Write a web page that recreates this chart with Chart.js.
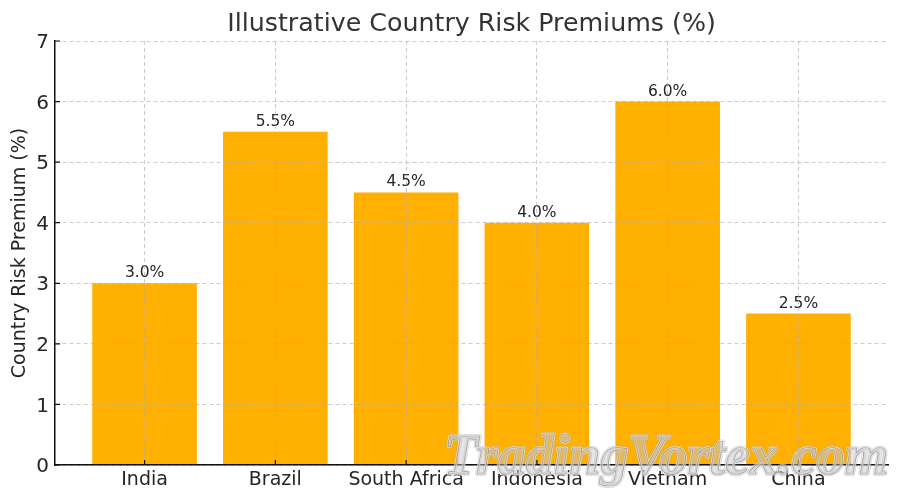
<!DOCTYPE html>
<html><head><meta charset="utf-8">
<script src="https://cdn.jsdelivr.net/npm/chart.js@4/dist/chart.umd.min.js"></script>
<style>html,body{margin:0;padding:0;background:#fff}#w{position:relative;width:900px;height:501px}</style>
</head><body><div id="w"><canvas id="c" width="900" height="501"></canvas></div>
<script>
const categories=["India","Brazil","South Africa","Indonesia","Vietnam","China"];
const premiums=[3.0,5.5,4.5,4.0,6.0,2.5];
const yTicks=[0,1,2,3,4,5,6,7];
const titleText='Illustrative Country Risk Premiums (%)';
const watermark='TradingVortex.com';
const font="'DejaVu Sans'";
const ink='#262626';
const points=premiums.map((v,i)=>({x:i,y:v}));
const extras={id:'extras',afterDatasetsDraw(ch){
  const c=ch.ctx,m=ch.getDatasetMeta(0);
  c.save();
  c.fillStyle=ink;c.font="15.5px "+font;c.textAlign='center';c.textBaseline='alphabetic';
  m.data.forEach((b,i)=>c.fillText(premiums[i].toFixed(1)+'%',b.x,b.y-6));
  c.font="25.3px "+font;c.fillStyle='#333';
  c.fillText(titleText,(ch.chartArea.left+ch.chartArea.right)/2,31);
  c.restore();
},afterDraw(ch){
  const c=ch.ctx,xs=ch.scales.x,ys=ch.scales.y;c.save();
  c.strokeStyle='#111';c.lineWidth=1.2;c.beginPath();
  yTicks.forEach(v=>{const y=ys.getPixelForValue(v);c.moveTo(ch.chartArea.left,y);c.lineTo(ch.chartArea.left+5,y);});
  categories.forEach((_,i)=>{const x=xs.getPixelForValue(i);c.moveTo(x,ch.chartArea.bottom);c.lineTo(x,ch.chartArea.bottom-5);});
  c.stroke();
  c.font="italic bold 56px 'Liberation Serif'";c.textAlign='center';c.textBaseline='alphabetic';
  c.lineJoin='round';
  c.lineWidth=4;c.strokeStyle='rgba(170,170,175,0.45)';c.strokeText(watermark,666,474);
  c.lineWidth=2.4;c.strokeStyle='rgba(255,255,255,0.55)';c.strokeText(watermark,666,474);
  c.fillStyle='rgba(200,195,200,0.45)';c.fillText(watermark,666,474);
  c.lineWidth=0.7;c.strokeStyle='rgba(110,110,110,0.6)';c.strokeText(watermark,666,474);
  c.restore();
}};
new Chart(document.getElementById('c'),{type:'bar',
data:{datasets:[{data:points,backgroundColor:'#FFB000',barPercentage:0.8,categoryPercentage:1}]},
plugins:[extras],
options:{responsive:false,animation:false,
layout:{padding:{left:0,right:12,top:41,bottom:0}},
plugins:{legend:{display:false},tooltip:{enabled:false},title:{display:false}},
scales:{
x:{type:'linear',min:-0.685,max:5.685,offset:false,
grid:{offset:false,color:'rgba(170,170,170,0.6)',drawTicks:false,z:1},border:{color:'#111',width:1.5,dash:[4,3],z:2},
afterBuildTicks(a){a.ticks=categories.map((_,i)=>({value:i}));},
afterFit(a){a.height=36;},
ticks:{color:ink,font:{family:font,size:19},padding:4,maxRotation:0,autoSkip:false,callback:(v)=>categories[v]}},
y:{min:0,max:7,
grid:{color:'rgba(170,170,170,0.6)',drawTicks:false,z:1},border:{color:'#111',width:1.5,dash:[4,3],z:2},
afterBuildTicks(a){a.ticks=yTicks.map(v=>({value:v}));},
afterFit(a){a.width=55;},
title:{display:true,text:'Country Risk Premium (%)',color:ink,font:{family:font,size:19},padding:{top:9,bottom:0}},
ticks:{color:ink,font:{family:font,size:20},padding:6,labelOffset:2}}
}}});
</script></body></html>
